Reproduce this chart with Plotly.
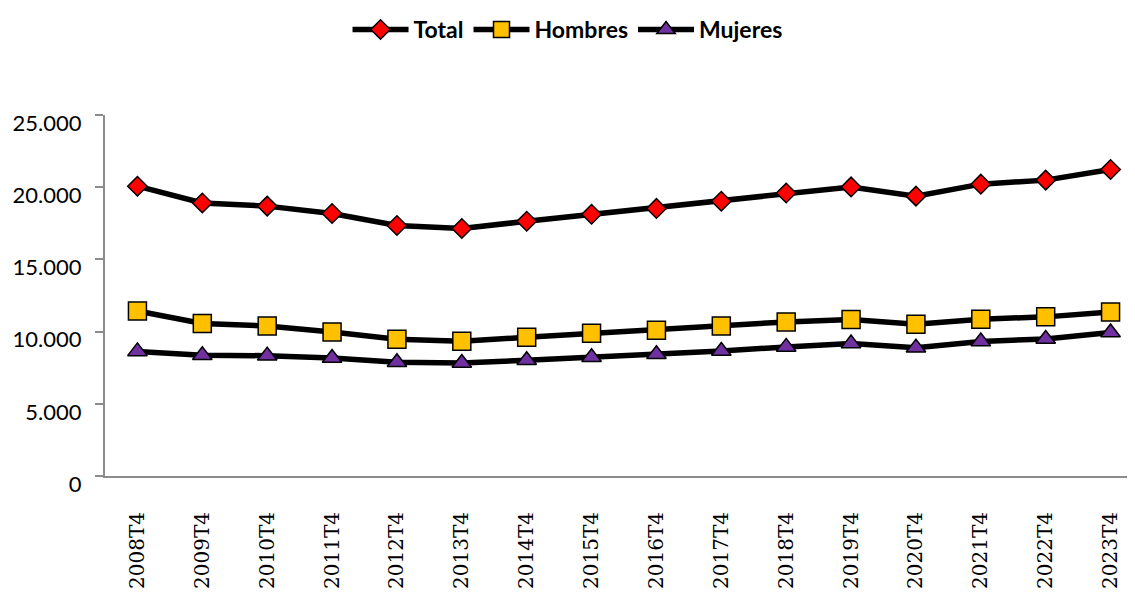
import plotly.graph_objects as go

# periods (4th quarter of each year)
periods = ["2008T4", "2009T4", "2010T4", "2011T4", "2012T4", "2013T4", "2014T4", "2015T4",
           "2016T4", "2017T4", "2018T4", "2019T4", "2020T4", "2021T4", "2022T4", "2023T4"]

total = [20070, 18910, 18690, 18180, 17350, 17140, 17640, 18130,
         18530, 19030, 19600, 20020, 19380, 20210, 20490, 21230]
hombres = [11430, 10560, 10390, 9980, 9470, 9330, 9610, 9890,
           10090, 10390, 10670, 10840, 10510, 10860, 11020, 11360]
mujeres = [8630, 8360, 8330, 8170, 7880, 7820, 8020, 8220,
           8430, 8660, 8940, 9170, 8880, 9320, 9490, 9940]

y_ticks = [0, 5000, 10000, 15000, 20000, 25000]
grid_vals = [5000, 10000, 15000, 20000]

series = [
    ("Total", total, "diamond", "#FF0000", 15),
    ("Hombres", hombres, "square", "#FFC000", 18),
    ("Mujeres", mujeres, "triangle-up", "#7030A0", 17),
]

fig = go.Figure()
for name, vals, sym, col, sz in series:
    fig.add_trace(go.Scatter(
        x=periods, y=vals, name=name, mode="lines+markers",
        line=dict(color="black", width=5.5),
        marker=dict(symbol=sym, size=sz, color=col, line=dict(color="black", width=1.5)),
    ))

axis_grey = "#8C8C8C"

# the page body adds an 8px margin, so the figure is offset by (8, 8)
fig.update_layout(
    width=1135, height=592,
    margin=dict(l=97, r=0, t=107, b=124, autoexpand=False),
    plot_bgcolor="white", paper_bgcolor="white",
    separators=",.",
    showlegend=True,
    legend=dict(orientation="h", x=0.4456, xanchor="center",
                yref="container", y=1.0, yanchor="top",
                font=dict(family="Lato", size=23, color="black", weight="bold"),
                itemwidth=56, traceorder="normal"),
    xaxis=dict(type="category", categoryorder="array", categoryarray=periods,
               range=[-0.5, 15.5], showgrid=False, zeroline=False, automargin=False,
               showline=True, linecolor=axis_grey, linewidth=2, ticks="",
               tickangle=-90, ticklabelstandoff=26,
               tickfont=dict(family="DejaVu Serif", size=20, color="black")),
    yaxis=dict(range=[0, 25000], tickvals=y_ticks, tickformat=",.0f",
               showgrid=False, zeroline=False, automargin=False,
               showline=True, linecolor=axis_grey, linewidth=2,
               ticks="outside", ticklen=8, tickcolor=axis_grey, tickwidth=2,
               ticklabelstandoff=9, ticklabelshift=8,
               tickfont=dict(family="Lato", size=22, color="black")),
    yaxis2=dict(overlaying="y", range=[0, 25000], tickvals=grid_vals,
                showgrid=True, gridcolor="#A6A6A6", gridwidth=2, automargin=False,
                showticklabels=False, ticks="", zeroline=False, showline=False),
)

fig.write_html("out.html")
